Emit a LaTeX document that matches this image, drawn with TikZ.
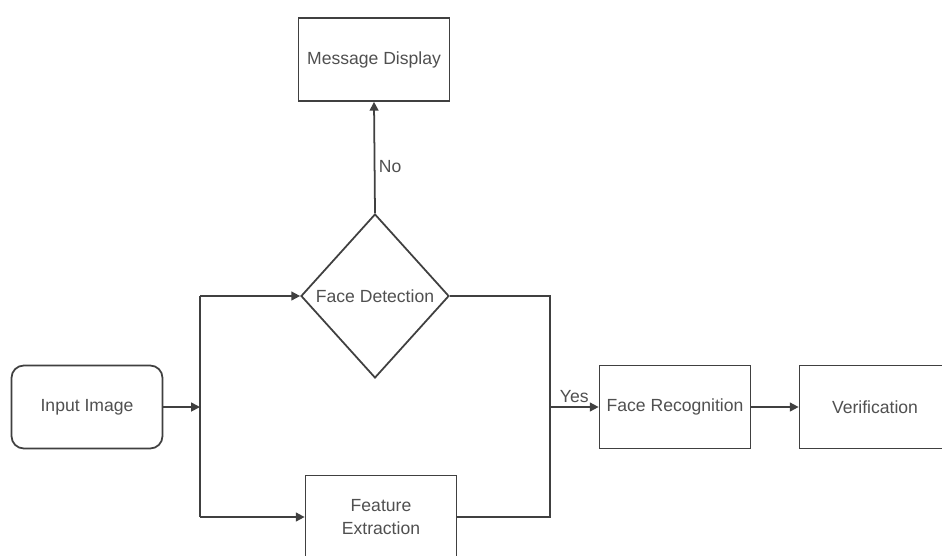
\documentclass[tikz,border=0pt]{standalone}
\usepackage{fontspec}
\setmainfont{Liberation Sans}
\usetikzlibrary{arrows.meta, shapes.geometric}
\definecolor{linecolor}{RGB}{64,64,64}
\definecolor{labelcolor}{RGB}{80,80,80}
\tikzset{
  box/.style      = {draw=linecolor, line width=1pt, fill=white,
                     minimum width=3.02cm, minimum height=1.66cm,
                     align=center, text=labelcolor, font=\fontsize{10}{13}\selectfont},
  rbox/.style     = {box, rounded corners=7pt},
  decision/.style = {diamond, draw=linecolor, line width=1pt, fill=white, inner sep=0pt,
                     minimum width=2.96cm, minimum height=3.28cm,
                     text=labelcolor, font=\fontsize{10}{13}\selectfont},
  arrow/.style    = {-{Triangle[length=5pt, width=5pt]}, line width=1pt, color=linecolor},
  link/.style     = {line width=1pt, color=linecolor},
  lbl/.style      = {text=labelcolor, font=\fontsize{10}{13}\selectfont, inner sep=2pt},
}

\begin{document}
\begin{tikzpicture}[x=0.02cm, y=-0.02cm]
  \clip (0,0) rectangle (942,555);
  \fill[white] (0,0) rectangle (942,555);
  % nodes
  \node[rbox]     (input)  at (87,407)   {Input Image};
  \node[decision] (detect) at (375,296)  {Face Detection};
  \node[box]      (msg)    at (374,59.5) {Message Display};
  \node[box]      (feat)   at (381,517)  {Feature\\Extraction};
  \node[box]      (recog)  at (675,407)  {Face Recognition};
  \node[box]      (verif)  at (875,407)  {Verification};
  % junctions
  \coordinate (split) at (200,407);
  \coordinate (splitup) at (200,296);
  \coordinate (splitdown) at (200,517);
  \coordinate (joinup) at (550,296);
  \coordinate (join) at (550,407);
  \coordinate (joindown) at (550,517);
  % connectors
  \draw[arrow] (input) -- (split);
  \draw[link] (splitup) -- (splitdown);
  \draw[arrow] (splitup) -- (detect.west);
  \draw[arrow] (splitdown) -- (feat.west);
  \draw[arrow] (detect.north) -- (msg.south) node[lbl, midway, right, yshift=-5pt] {No};
  \draw[link] (detect.east) -- (joinup) -- (joindown) -- (feat.east);
  \draw[arrow] (join) -- (recog.west) node[lbl, midway, above] {Yes};
  \draw[arrow] (recog) -- (verif);
\end{tikzpicture}
\end{document}
